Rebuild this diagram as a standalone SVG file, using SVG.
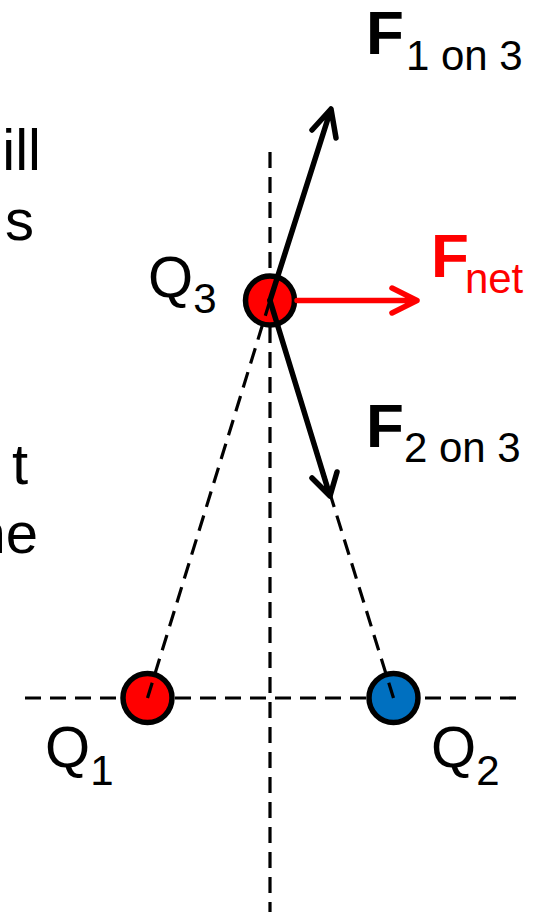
<svg xmlns="http://www.w3.org/2000/svg" width="543" height="912" viewBox="0 0 543 912">
<style>
.txt{font-family:"Liberation Sans",Arial,sans-serif;fill:#000}
.big{font-size:58px}
.sub{font-size:42px}
.bold{font-weight:bold;font-size:62px}
.dash{stroke:#000;stroke-width:3.2;stroke-dasharray:16 9;fill:none}
.arrow{stroke:#000;stroke-width:5.5;fill:none;stroke-linecap:round;stroke-linejoin:round}
.red{stroke:#ff0000}
.ring{stroke:#000;stroke-width:5.5}
</style>
<rect width="543" height="912" fill="#fff"/>
<g id="slide-text" class="txt big">
<text x="41" y="170" text-anchor="end">ill</text>
<text x="34" y="240" text-anchor="end">s</text>
<text x="28" y="484" text-anchor="end">t</text>
<text x="38" y="553" text-anchor="end">ne</text>
</g>
<g id="connectors">
<line class="dash" x1="25" y1="698" x2="518" y2="698"/>
<line class="dash" x1="270" y1="152" x2="270" y2="912"/>
</g>
<g id="Q1">
<circle cx="147.5" cy="698" r="24.5" fill="#ff0000" class="ring"/>
<text class="txt big" x="45" y="767">Q<tspan class="sub" dy="18">1</tspan></text>
</g>
<g id="Q2">
<circle cx="393.5" cy="698" r="24.5" fill="#0070c0" class="ring"/>
<text class="txt big" x="431" y="767">Q<tspan class="sub" dy="18">2</tspan></text>
</g>
<g id="Q3">
<circle cx="270" cy="300.5" r="24.5" fill="#ff0000" class="ring"/>
<text class="txt big" x="148" y="297">Q<tspan class="sub" dy="16">3</tspan></text>
</g>
<g id="force-lines">
<line class="dash" x1="147.5" y1="698" x2="270" y2="300.5"/>
<line class="dash" x1="393.5" y1="698" x2="270" y2="300.5"/>
<g id="F1on3">
<path class="arrow" d="M270 300.5 L331 109 M312 130 L331 109 L336 138"/>
<text class="txt" x="366" y="54"><tspan class="bold">F</tspan><tspan class="sub" dx="2" dy="16">1 on 3</tspan></text>
</g>
<g id="F2on3">
<path class="arrow" d="M270 300.5 L330 496 M312 478 L330 496 L337 472"/>
<text class="txt" x="366" y="447"><tspan class="bold">F</tspan><tspan class="sub" dx="0" dy="15">2 on 3</tspan></text>
</g>
<g id="Fnet">
<path class="arrow red" d="M297 300.5 L417 300.5 M392 288 L417 300.5 L392 313"/>
<text class="txt" x="431" y="277" style="fill:#ff0000"><tspan class="bold" style="fill:#ff0000">F</tspan><tspan class="sub" dx="-4" dy="16" style="fill:#ff0000">net</tspan></text>
</g>
</g>
</svg>
